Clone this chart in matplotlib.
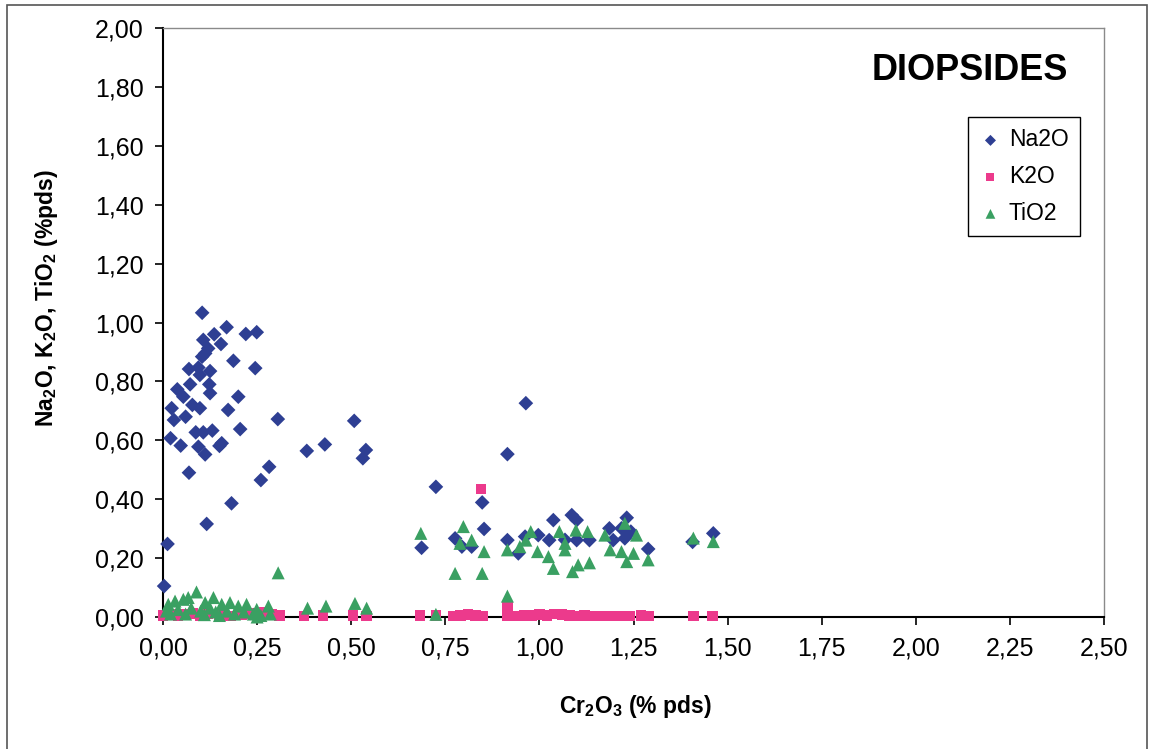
#Diopsides: Na2O, K2O, TiO2 against Cr2O3 (weight %)

import matplotlib
matplotlib.use("Agg")
import matplotlib.pyplot as plt
from matplotlib.patches import Rectangle
from matplotlib.ticker import FuncFormatter

plt.rcParams["font.family"] = ["Liberation Sans", "DejaVu Sans"]
plt.rcParams["mathtext.default"] = "regular"

#Na2O points (Cr2O3, Na2O)
na2o_x = [0.104, 0.169, 0.136, 0.220, 0.249, 0.107, 0.154, 0.120, 0.112, 0.104,
          0.187, 0.245, 0.069, 0.094, 0.098, 0.125, 0.072, 0.123, 0.125, 0.038,
          0.054, 0.200, 0.023, 0.078, 0.098, 0.060, 0.029, 0.173, 0.305, 0.508,
          0.205, 0.087, 0.107, 0.131, 0.020, 0.047, 0.094, 0.112, 0.156, 0.150,
          0.382, 0.430, 0.539, 0.531, 0.069, 0.282, 0.260, 0.182, 0.116, 0.725,
          0.012, 0.687, 0.003,
          0.964, 0.915, 0.848, 0.853, 0.776, 0.794, 0.820, 0.915, 0.944, 0.962,
          0.997, 1.026, 1.037, 1.086, 1.099, 1.099, 1.133, 1.186, 1.196, 1.232,
          1.218, 1.243, 1.227, 1.289, 1.407, 1.462, 1.068]
na2o_y = [1.033, 0.984, 0.960, 0.961, 0.967, 0.941, 0.927, 0.912, 0.895, 0.884,
          0.870, 0.845, 0.842, 0.847, 0.822, 0.835, 0.790, 0.790, 0.760, 0.773,
          0.748, 0.748, 0.709, 0.720, 0.709, 0.680, 0.669, 0.703, 0.672, 0.666,
          0.638, 0.627, 0.627, 0.633, 0.607, 0.582, 0.578, 0.552, 0.590, 0.581,
          0.564, 0.586, 0.567, 0.539, 0.490, 0.510, 0.465, 0.386, 0.316, 0.442,
          0.248, 0.235, 0.105,
          0.726, 0.553, 0.389, 0.299, 0.267, 0.239, 0.239, 0.261, 0.216, 0.273,
          0.278, 0.261, 0.329, 0.346, 0.329, 0.261, 0.261, 0.301, 0.261, 0.337,
          0.301, 0.290, 0.267, 0.231, 0.255, 0.284, 0.262]

#K2O points (Cr2O3, K2O)
k2o_x = [0.000, 0.020, 0.040, 0.060, 0.080, 0.100, 0.120, 0.150, 0.180, 0.210,
         0.230, 0.250, 0.270, 0.290, 0.310, 0.375, 0.425, 0.505, 0.540, 0.683,
         0.725, 0.770, 0.790, 0.810, 0.830, 0.845, 0.850, 0.915, 0.915, 0.940,
         0.960, 0.980, 1.000, 1.020, 1.040, 1.060, 1.080, 1.100, 1.120, 1.140,
         1.160, 1.180, 1.200, 1.220, 1.240, 1.270, 1.290, 1.410, 1.460]
k2o_y = [0.005, 0.010, 0.003, 0.008, 0.012, 0.005, 0.010, 0.006, 0.004, 0.008,
         0.012, 0.010, 0.015, 0.008, 0.005, 0.004, 0.005, 0.006, 0.004, 0.006,
         0.005, 0.004, 0.006, 0.008, 0.005, 0.434, 0.004, 0.035, 0.006, 0.004,
         0.006, 0.005, 0.008, 0.006, 0.010, 0.008, 0.006, 0.004, 0.005, 0.004,
         0.004, 0.003, 0.004, 0.004, 0.004, 0.005, 0.004, 0.004, 0.004]

#TiO2 points (Cr2O3, TiO2)
tio2_x = [0.014, 0.032, 0.054, 0.067, 0.089, 0.112, 0.134, 0.156, 0.178, 0.200,
          0.222, 0.249, 0.280, 0.009, 0.040, 0.075, 0.100, 0.125, 0.140, 0.170,
          0.190, 0.215, 0.240, 0.260, 0.020, 0.060, 0.110, 0.150, 0.285, 0.250,
          0.306, 0.384, 0.433, 0.510, 0.541, 0.725,
          0.685, 0.798, 0.820, 0.789, 0.853, 0.776, 0.848, 0.915, 0.915, 0.948,
          0.964, 0.977, 0.995, 1.024, 1.037, 1.053, 1.068, 1.068, 1.097, 1.128,
          1.088, 1.103, 1.133, 1.174, 1.188, 1.218, 1.232, 1.250, 1.258, 1.227,
          1.289, 1.409, 1.462]
tio2_y = [0.043, 0.054, 0.060, 0.066, 0.085, 0.049, 0.066, 0.043, 0.049, 0.037,
          0.043, 0.026, 0.037, 0.020, 0.025, 0.030, 0.020, 0.030, 0.017, 0.020,
          0.010, 0.017, 0.010, 0.005, 0.010, 0.010, 0.008, 0.005, 0.010, 0.000,
          0.150, 0.030, 0.037, 0.046, 0.030, 0.009,
          0.284, 0.307, 0.261, 0.250, 0.222, 0.148, 0.148, 0.071, 0.228, 0.239,
          0.261, 0.290, 0.222, 0.205, 0.165, 0.290, 0.250, 0.228, 0.295, 0.290,
          0.154, 0.177, 0.184, 0.278, 0.228, 0.222, 0.188, 0.216, 0.278, 0.318,
          0.194, 0.268, 0.256]

x_ticks = [0.00, 0.25, 0.50, 0.75, 1.00, 1.25, 1.50, 1.75, 2.00, 2.25, 2.50]
y_ticks = [0.00, 0.20, 0.40, 0.60, 0.80, 1.00, 1.20, 1.40, 1.60, 1.80, 2.00]

blue = "#2E3F93"
pink = "#EC3A8C"
green = "#3AA062"

fig = plt.figure(figsize=(11.49, 7.49), dpi=100)
ax = fig.add_axes([163 / 1149, 1 - 617 / 749, (1104 - 163) / 1149, (617 - 28) / 749])

ax.scatter(na2o_x, na2o_y, marker="D", s=56, color=blue, edgecolors="none",
           label="Na2O", clip_on=False, zorder=3)
ax.scatter(k2o_x, k2o_y, marker="s", s=58, color=pink, edgecolors="none",
           label="K2O", clip_on=False, zorder=4)
ax.scatter(tio2_x, tio2_y, marker="^", s=88, color=green, edgecolors="none",
           label="TiO2", clip_on=False, zorder=5)

ax.set_xlim(0, 2.5)
ax.set_ylim(0, 2.0)
ax.set_xticks(x_ticks)
ax.set_yticks(y_ticks)
comma = FuncFormatter(lambda v, p: f"{v:.2f}".replace(".", ","))
ax.xaxis.set_major_formatter(comma)
ax.yaxis.set_major_formatter(comma)
ax.tick_params(direction="out", length=6, width=1.2, labelsize=18, color="black", pad=8)

for side in ["left", "bottom"]:
    ax.spines[side].set_color("black")
    ax.spines[side].set_linewidth(1.5)
for side in ["top", "right"]:
    ax.spines[side].set_color("#8A8A8A")
    ax.spines[side].set_linewidth(1.0)

#Axis titles
fig.text(635 / 1149, 1 - 707 / 749, "Cr$_2$O$_3$ (% pds)", fontsize=16.5,
         fontweight="bold", ha="center", va="center")
fig.text(46 / 1149, 1 - 298 / 749, "Na$_2$O, K$_2$O, TiO$_2$ (%pds)", fontsize=16.5,
         fontweight="bold", ha="center", va="center", rotation=90)

ax.text(0.962, 0.928, "DIOPSIDES", transform=ax.transAxes, fontsize=26,
        fontweight="bold", ha="right", va="center")

leg = ax.legend(loc="upper right", bbox_to_anchor=(0.9745, 0.849), borderaxespad=0,
                fontsize=16.5, markerscale=0.75, handletextpad=0.3, labelspacing=0.6,
                handlelength=1.0, borderpad=0.5, fancybox=False, framealpha=1)
leg.get_frame().set_edgecolor("black")
leg.get_frame().set_linewidth(1.0)

#Outer frame of the scanned chart
fig.patches.append(Rectangle((7 / 1149, -0.05), (1147 - 7) / 1149, 1.05 - 5 / 749,
                             transform=fig.transFigure, fill=False,
                             edgecolor="#555555", linewidth=1.2))

plt.savefig("out.png", dpi=100)
